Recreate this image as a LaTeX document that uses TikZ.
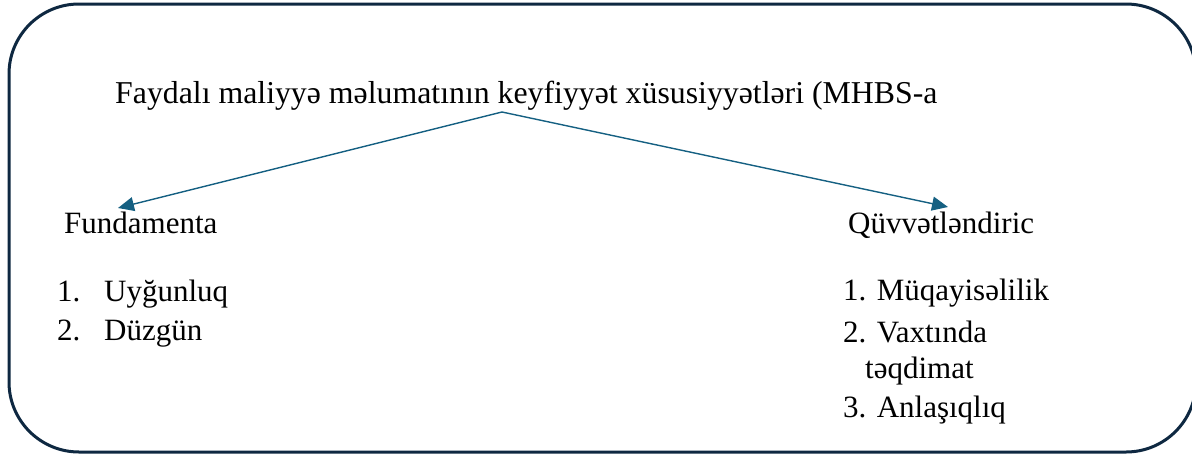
\documentclass[tikz,border=0pt]{standalone}
\usepackage{fontspec}
\setmainfont{Liberation Serif}
\usetikzlibrary{arrows.meta}
\definecolor{boxline}{HTML}{0E2841}
\definecolor{arrowcol}{HTML}{156082}
\tikzset{
  lbl/.style={anchor=base west, inner sep=0pt, font=\fontsize{31}{37}\selectfont},
  ttl/.style={anchor=base west, inner sep=0pt, font=\fontsize{31.8}{38}\selectfont},
  conn/.style={draw=arrowcol, line width=1.4pt, -{Triangle[length=16pt,width=14pt]}}
}
\begin{document}
\begin{tikzpicture}[x=1pt,y=-1pt]
\useasboundingbox (0,0) rectangle (1192,453);
\draw[boxline, line width=3pt, rounded corners=70pt] (9,4) rectangle (1196,452);
\node[ttl] (title) at (115,103) {Faydalı maliyyə məlumatının keyfiyyət xüsusiyyətləri (MHBS-a};
\node[lbl] (fund) at (64,233) {Fundamenta};
\node[lbl] (quv) at (848,233) {Qüvvətləndiric};
\node[lbl] (l1n) at (57,301) {1.};
\node[lbl] (l1) at (104,301) {Uyğunluq};
\node[lbl] (l2n) at (57,340) {2.};
\node[lbl] (l2) at (104,340) {Düzgün};
\node[lbl] (r1) at (843,300) {1. Müqayisəlilik};
\node[lbl] (r2) at (843,342) {2. Vaxtında};
\node[lbl] (r2b) at (865,378) {təqdimat};
\node[lbl] (r3) at (843,417) {3. Anlaşıqlıq};
\coordinate (apex) at (502,112);
\coordinate (ltip) at (118,208);
\coordinate (rtip) at (948,207);
\draw[conn] (apex) -- (ltip);
\draw[conn] (apex) -- (rtip);
\end{tikzpicture}
\end{document}
